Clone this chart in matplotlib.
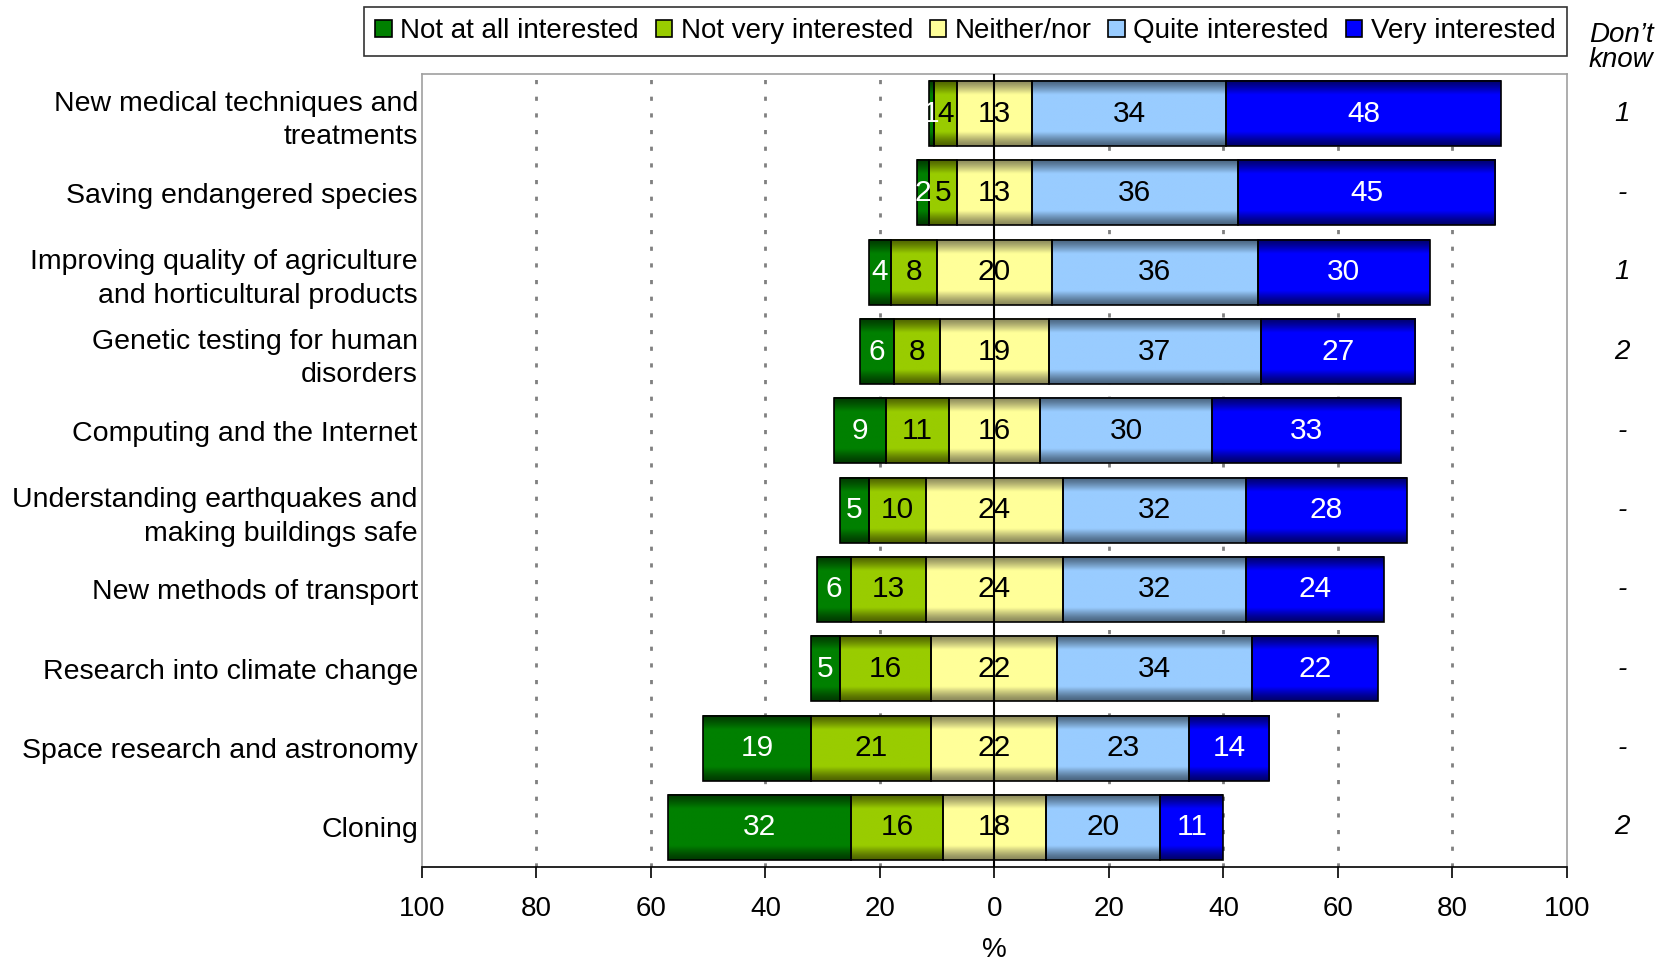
# diverging stacked bar chart: interest in science topics

import matplotlib.pyplot as plt
from matplotlib.patches import Patch
from matplotlib.colors import to_rgb
import numpy as np

plt.rcParams['font.family'] = ['Liberation Sans', 'DejaVu Sans']

topics = ["New medical techniques and\ntreatments",
          "Saving endangered species",
          "Improving quality of agriculture\nand horticultural products",
          "Genetic testing for human\ndisorders",
          "Computing and the Internet",
          "Understanding earthquakes and\nmaking buildings safe",
          "New methods of transport",
          "Research into climate change",
          "Space research and astronomy",
          "Cloning"]

not_at_all = [1, 2, 4, 6, 9, 5, 6, 5, 19, 32]
not_very = [4, 5, 8, 8, 11, 10, 13, 16, 21, 16]
neither = [13, 13, 20, 19, 16, 24, 24, 22, 22, 18]
quite = [34, 36, 36, 37, 30, 32, 32, 34, 23, 20]
very = [48, 45, 30, 27, 33, 28, 24, 22, 14, 11]
dont_know = ["1", "-", "1", "2", "-", "-", "-", "-", "-", "2"]

series_names = ["Not at all interested", "Not very interested", "Neither/nor",
                "Quite interested", "Very interested"]
light = ["#008000", "#99CC00", "#FFFF99", "#99CCFF", "#0000FF"]
dark = ["#003C00", "#4F6400", "#8C8A5C", "#4A6580", "#000070"]
label_col = ["white", "black", "black", "black", "white"]

series = [not_at_all, not_very, neither, quite, very]

fig = plt.figure(figsize=(16.68, 9.67), dpi=100)
ax = fig.add_axes([0.253, 0.1034, 0.6864, 0.8201])

n = len(topics)
y = np.arange(n)
h = 0.82

# vertical shading profile: dark at top/bottom, light in middle
t = np.linspace(0, 1, 60)
prof = np.clip(np.sin(np.pi * t) * 1.6, 0, 1) ** 1.4


def shaded_img(c_light, c_dark):
    a = np.array(to_rgb(c_light))
    b = np.array(to_rgb(c_dark))
    img = b[None, :] + (a - b)[None, :] * prof[:, None]
    return img[:, None, :]


for i in range(n):
    left = -(not_at_all[i] + not_very[i] + neither[i] / 2)
    for k, s in enumerate(series):
        w = s[i]
        ax.imshow(shaded_img(light[k], dark[k]), extent=[left, left + w, y[i] + h / 2, y[i] - h / 2],
                  aspect='auto', interpolation='bilinear', zorder=2)
        ax.barh(y[i], w, left=left, height=h, facecolor='none', edgecolor='black', linewidth=1.2, zorder=3)
        ax.text(left + w / 2, y[i], str(w), ha='center', va='center', fontsize=21.5,
                color=label_col[k], zorder=5)
        left += w
    ax.text(1.048, y[i], dont_know[i], transform=ax.get_yaxis_transform(), ha='center', va='center',
            fontsize=20, style='italic')

ax.axvline(0, color='black', linewidth=1.5, zorder=4)
for g in [-80, -60, -40, -20, 20, 40, 60, 80]:
    ax.axvline(g, color='#808080', linestyle=(0, (1.5, 4.5)), linewidth=2, zorder=1)

ax.set_xlim(-100, 100)
ax.set_ylim(n - 0.5, -0.5)
ax.set_xticks(np.arange(-100, 101, 20))
ax.set_xticklabels([str(abs(v)) for v in range(-100, 101, 20)], fontsize=20)
ax.tick_params(axis='x', direction='out', length=8, width=1.2, pad=13)
ax.set_yticks(y)
ax.set_yticklabels(topics, fontsize=20.5, linespacing=1.38)
ax.tick_params(axis='y', length=0, pad=3)
ax.set_xlabel("%", fontsize=20, labelpad=11)

for sp in ['top', 'right', 'left']:
    ax.spines[sp].set_color('#A0A0A0')
    ax.spines[sp].set_linewidth(1.2)
ax.spines['bottom'].set_color('black')
ax.spines['bottom'].set_linewidth(1.2)

fig.text(0.972, 0.951, "Don\u2019t\nknow", ha='center', va='center', fontsize=20, style='italic',
         linespacing=0.95)

handles = [Patch(facecolor=light[k], edgecolor='black', linewidth=1.2) for k in range(5)]
leg = fig.legend(handles, series_names, loc='upper right', bbox_to_anchor=(0.9394, 0.993), ncol=5,
                 fontsize=20, frameon=True, fancybox=False, edgecolor='black', handlelength=0.6,
                 handleheight=0.6, handletextpad=0.3, columnspacing=0.6, borderpad=0.42,
                 borderaxespad=0)
leg.get_frame().set_linewidth(1.2)

fig.savefig("out.png", dpi=100)
